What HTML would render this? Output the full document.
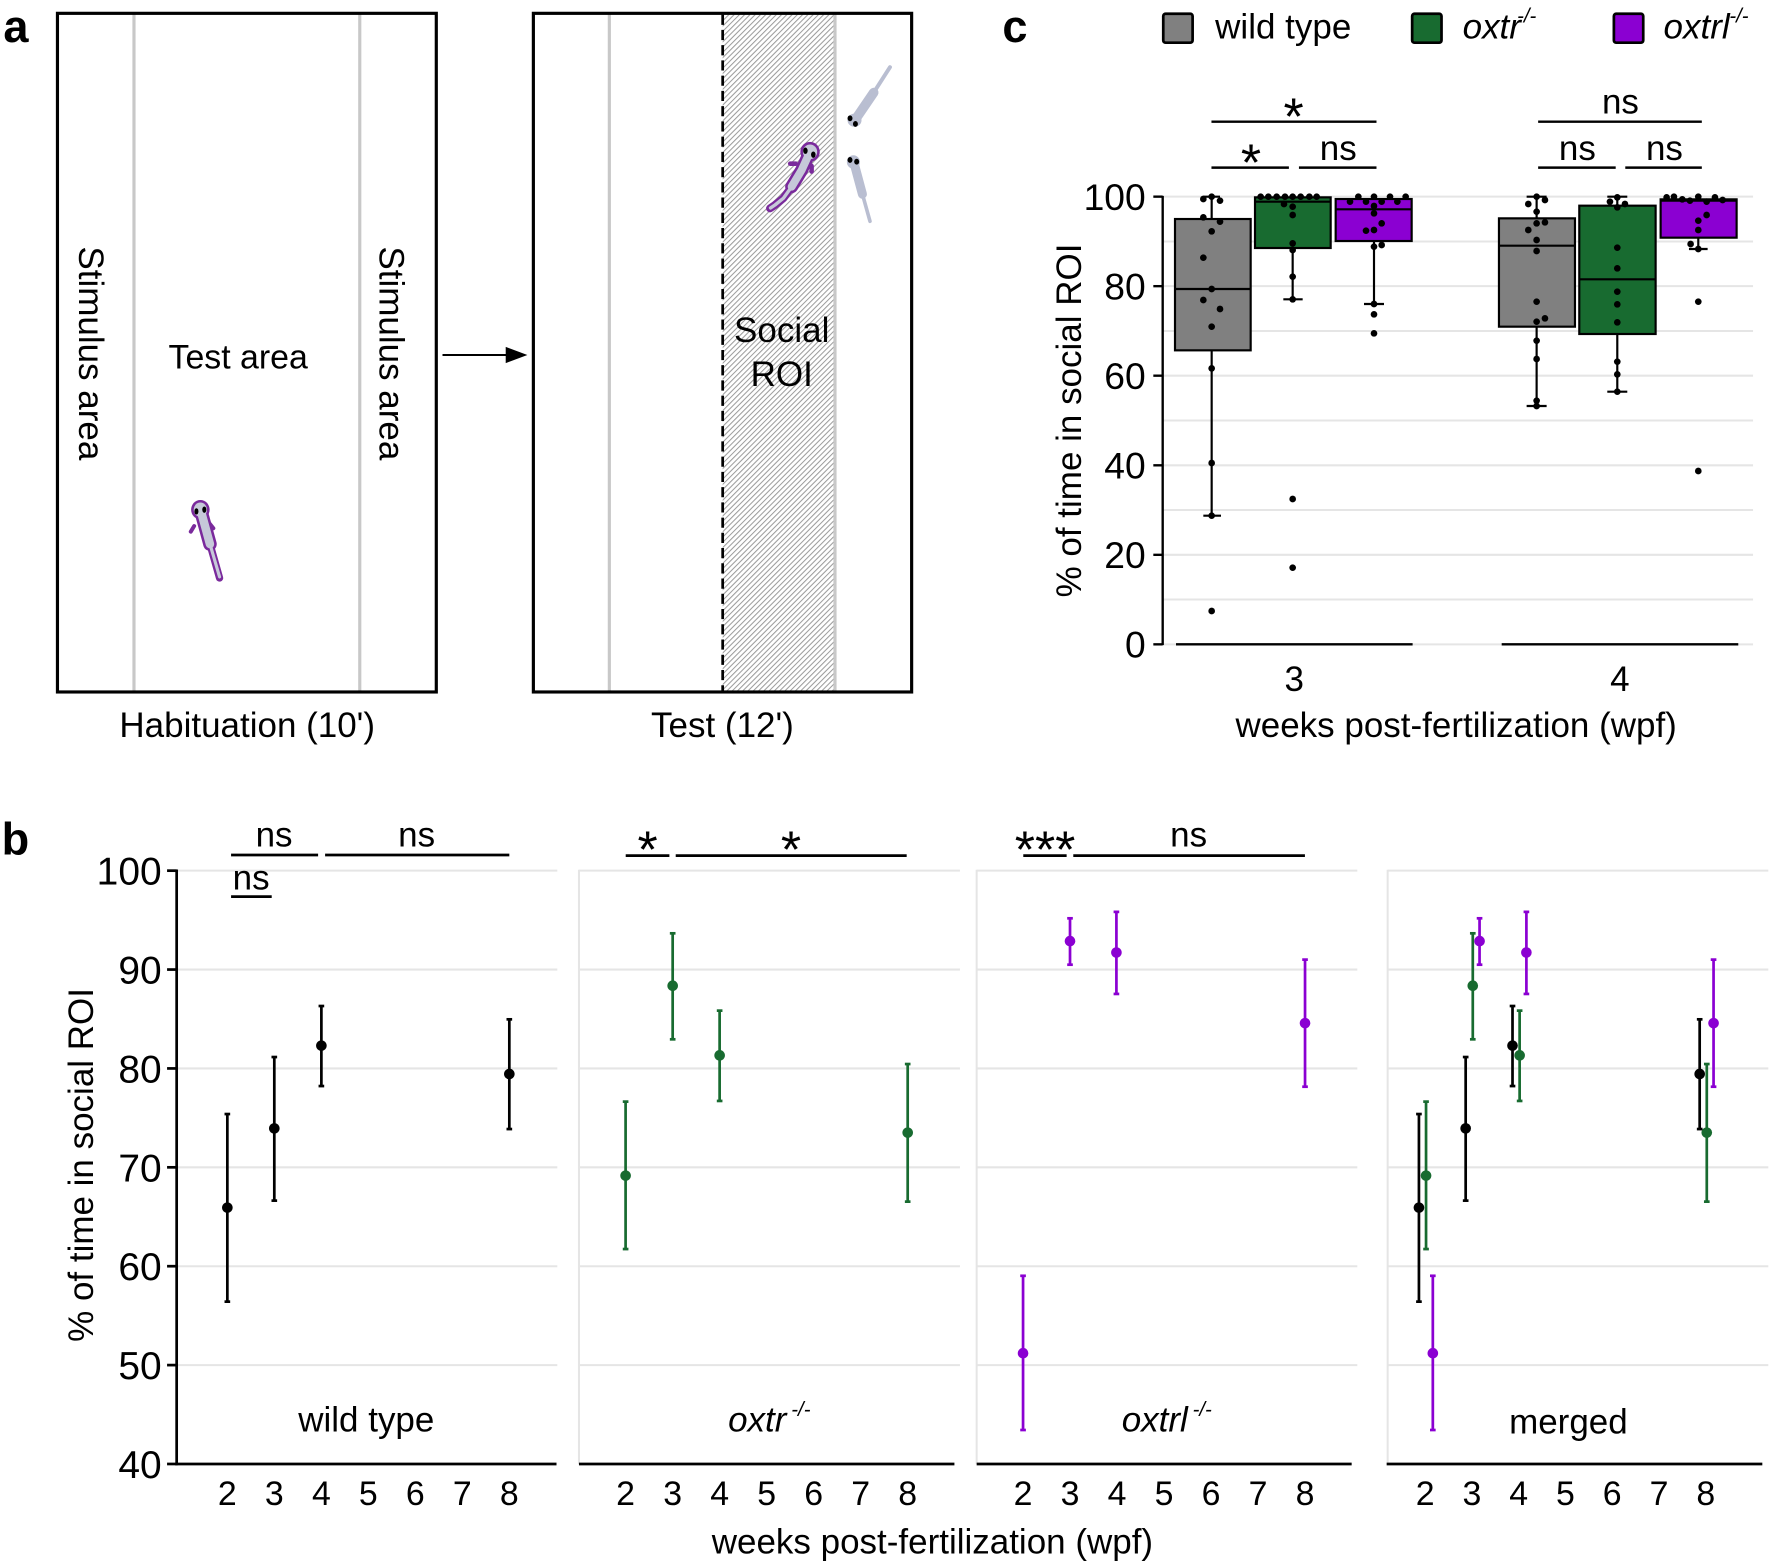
<!DOCTYPE html>
<html><head><meta charset="utf-8">
<style>html,body{margin:0;padding:0;background:#fff}svg{display:block}</style>
</head><body>
<svg width="1770" height="1564" viewBox="0 0 1568 1385.5" xmlns="http://www.w3.org/2000/svg" font-family="'Liberation Sans', Arial, sans-serif">
<defs>
<pattern id="hatch" width="10" height="3.3" patternUnits="userSpaceOnUse" patternTransform="rotate(-45)">
<rect x="0" y="0" width="10" height="0.9" fill="#9a9a9a"/>
</pattern>
</defs>
<rect width="1568" height="1385.5" fill="#fff"/>

<!-- ================= PANEL A ================= -->
<text x="3" y="37" font-size="40" font-weight="bold">a</text>
<line x1="118.7" y1="12" x2="118.7" y2="613" stroke="#c8c8c8" stroke-width="2.8"/>
<line x1="318.7" y1="12" x2="318.7" y2="613" stroke="#c8c8c8" stroke-width="2.8"/>
<rect x="50.9" y="11.8" width="335.6" height="601.2" fill="none" stroke="#000" stroke-width="2.8"/>
<text transform="translate(70,313) rotate(90)" x="0" y="0" font-size="31" text-anchor="middle">Stimulus area</text>
<text transform="translate(336,313) rotate(90)" x="0" y="0" font-size="31" text-anchor="middle">Stimulus area</text>
<text x="211" y="326.3" font-size="30" text-anchor="middle">Test area</text>
<g>
<line x1="178.6" y1="455" x2="186" y2="482" stroke="#7a2a9c" stroke-width="12" stroke-linecap="round"/>
<line x1="186" y1="482" x2="194.5" y2="512" stroke="#7a2a9c" stroke-width="6.5" stroke-linecap="round"/>
<line x1="172" y1="466" x2="169" y2="471" stroke="#7a2a9c" stroke-width="3.5" stroke-linecap="round"/>
<line x1="185" y1="463" x2="189" y2="468" stroke="#7a2a9c" stroke-width="3.5" stroke-linecap="round"/>
<ellipse cx="177.5" cy="451.5" rx="8.2" ry="8.6" fill="#7a2a9c"/>
<line x1="178.6" y1="455" x2="186" y2="482" stroke="#c6c9d9" stroke-width="7.5" stroke-linecap="round"/>
<line x1="186" y1="482" x2="194.5" y2="511" stroke="#c6c9d9" stroke-width="2.8" stroke-linecap="round"/>
<ellipse cx="177.5" cy="451.5" rx="5.9" ry="6.3" fill="#c6c9d9"/>
<ellipse cx="174" cy="453" rx="1.8" ry="2.8" fill="#000"/>
<ellipse cx="181" cy="451.5" rx="1.8" ry="2.8" fill="#000"/>
</g>
<text x="219" y="653" font-size="31" text-anchor="middle">Habituation (10')</text>
<line x1="392" y1="314.5" x2="452" y2="314.5" stroke="#000" stroke-width="1.8"/>
<polygon points="467.2,314.5 448,307.3 448,321.7" fill="#000"/>
<rect x="640.2" y="13" width="99.5" height="599" fill="url(#hatch)"/>
<line x1="539.8" y1="12" x2="539.8" y2="613" stroke="#c8c8c8" stroke-width="2.8"/>
<line x1="739.7" y1="12" x2="739.7" y2="613" stroke="#c8c8c8" stroke-width="2.8"/>
<line x1="640.2" y1="13" x2="640.2" y2="613" stroke="#000" stroke-width="2.4" stroke-dasharray="9 4.5"/>
<rect x="472.5" y="11.8" width="335.1" height="601.2" fill="none" stroke="#000" stroke-width="2.8"/>
<text x="692.5" y="303" font-size="31" text-anchor="middle">Social</text>
<text x="692.5" y="342" font-size="31" text-anchor="middle">ROI</text>
<g>
<polyline points="717.6,134.4 710.2,150.6 701.3,165.4" fill="none" stroke="#7a2a9c" stroke-width="11.5" stroke-linecap="round" stroke-linejoin="round"/>
<polyline points="701.3,165.4 693.9,175.7 686.5,181.6 682.1,184.6" fill="none" stroke="#7a2a9c" stroke-width="7" stroke-linecap="round" stroke-linejoin="round"/>
<line x1="705" y1="145" x2="700" y2="145" stroke="#7a2a9c" stroke-width="4" stroke-linecap="round"/>
<line x1="719" y1="147" x2="719" y2="152" stroke="#7a2a9c" stroke-width="4" stroke-linecap="round"/>
<ellipse cx="717.6" cy="134.5" rx="8.6" ry="8.8" fill="#7a2a9c"/>
<polyline points="717.6,134.4 710.2,150.6 701.3,165.4" fill="none" stroke="#c6c9d9" stroke-width="7" stroke-linecap="round" stroke-linejoin="round"/>
<polyline points="701.3,165.4 693.9,175.7 686.5,181.6 682.6,184.2" fill="none" stroke="#c6c9d9" stroke-width="3" stroke-linecap="round" stroke-linejoin="round"/>
<ellipse cx="717.6" cy="134.5" rx="6.3" ry="6.5" fill="#c6c9d9"/>
<ellipse cx="713.5" cy="133.5" rx="2" ry="2.8" fill="#000"/>
<ellipse cx="720.5" cy="137" rx="2" ry="2.8" fill="#000"/>
</g>
<g>
<line x1="759" y1="104" x2="774" y2="82" stroke="#b9bed1" stroke-width="8.5" stroke-linecap="round"/>
<line x1="774" y1="82" x2="788.4" y2="59.5" stroke="#b9bed1" stroke-width="3.5" stroke-linecap="round"/>
<ellipse cx="757" cy="106.5" rx="6.2" ry="5.8" fill="#b9bed1"/>
<ellipse cx="753" cy="104.8" rx="2.2" ry="2.6" fill="#000"/>
<ellipse cx="757.8" cy="109.8" rx="2.2" ry="2.6" fill="#000"/>
<line x1="757" y1="146" x2="764" y2="172" stroke="#b9bed1" stroke-width="8" stroke-linecap="round"/>
<line x1="764" y1="172" x2="770.7" y2="196" stroke="#b9bed1" stroke-width="3.2" stroke-linecap="round"/>
<ellipse cx="756" cy="143.5" rx="5.8" ry="6" fill="#b9bed1"/>
<ellipse cx="753" cy="141.7" rx="2.2" ry="2.6" fill="#000"/>
<ellipse cx="758.9" cy="143.2" rx="2.2" ry="2.6" fill="#000"/>
</g>
<text x="640" y="653" font-size="31" text-anchor="middle">Test (12')</text>

<!-- ================= PANEL C ================= -->
<text x="888" y="37" font-size="40" font-weight="bold">c</text>
<rect x="1030.5" y="12.2" width="26" height="25.6" rx="2" fill="#808080" stroke="#000" stroke-width="2.4"/>
<text x="1076.5" y="34" font-size="31">wild type</text>
<rect x="1251" y="12.2" width="26" height="25.6" rx="2" fill="#186b30" stroke="#000" stroke-width="2.4"/>
<text x="1295.7" y="34" font-size="31" font-style="italic">oxtr</text>
<text x="1344" y="20" font-size="18" font-style="italic">-/-</text>
<rect x="1429.7" y="12.2" width="26" height="25.6" rx="2" fill="#8b00d2" stroke="#000" stroke-width="2.4"/>
<text x="1473.7" y="34" font-size="31" font-style="italic">oxtrl</text>
<text x="1532" y="20" font-size="18" font-style="italic">-/-</text>
<g stroke="#000" stroke-width="2.2">
<line x1="1073.2" y1="107.8" x2="1219.4" y2="107.8"/>
<line x1="1073.2" y1="148.5" x2="1141.8" y2="148.5"/>
<line x1="1150.7" y1="148.5" x2="1219.4" y2="148.5"/>
<line x1="1362.6" y1="107.8" x2="1507.6" y2="107.8"/>
<line x1="1362.6" y1="148.5" x2="1431.3" y2="148.5"/>
<line x1="1439.8" y1="148.5" x2="1507.6" y2="148.5"/>
</g>
<text x="1146" y="119" font-size="46" text-anchor="middle">*</text>
<text x="1108.2" y="160" font-size="46" text-anchor="middle">*</text>
<text x="1185.5" y="141.7" font-size="31" text-anchor="middle">ns</text>
<text x="1435.5" y="100.4" font-size="31" text-anchor="middle">ns</text>
<text x="1397.4" y="141.7" font-size="31" text-anchor="middle">ns</text>
<text x="1474.5" y="141.7" font-size="31" text-anchor="middle">ns</text>
<g stroke="#e5e5e5" stroke-width="1.8">
<line x1="1030" y1="174.2" x2="1553" y2="174.2"/>
<line x1="1030" y1="213.9" x2="1553" y2="213.9"/>
<line x1="1030" y1="253.5" x2="1553" y2="253.5"/>
<line x1="1030" y1="293.2" x2="1553" y2="293.2"/>
<line x1="1030" y1="332.8" x2="1553" y2="332.8"/>
<line x1="1030" y1="372.5" x2="1553" y2="372.5"/>
<line x1="1030" y1="412.2" x2="1553" y2="412.2"/>
<line x1="1030" y1="451.8" x2="1553" y2="451.8"/>
<line x1="1030" y1="491.5" x2="1553" y2="491.5"/>
<line x1="1030" y1="531.1" x2="1553" y2="531.1"/>
<line x1="1030" y1="570.8" x2="1553" y2="570.8"/>
</g>
<g stroke="#000" stroke-width="2.1">
<line x1="1030" y1="173.5" x2="1030" y2="571.5"/>
<line x1="1021.7" y1="174.2" x2="1030" y2="174.2"/>
<line x1="1021.7" y1="253.5" x2="1030" y2="253.5"/>
<line x1="1021.7" y1="332.8" x2="1030" y2="332.8"/>
<line x1="1021.7" y1="412.2" x2="1030" y2="412.2"/>
<line x1="1021.7" y1="491.5" x2="1030" y2="491.5"/>
<line x1="1021.7" y1="570.8" x2="1030" y2="570.8"/>
<line x1="1041.8" y1="570.8" x2="1251.4" y2="570.8"/>
<line x1="1330.3" y1="570.8" x2="1539.9" y2="570.8"/>
</g>
<g font-size="33" text-anchor="end">
<text x="1015" y="186">100</text>
<text x="1015" y="265.3">80</text>
<text x="1015" y="344.6">60</text>
<text x="1015" y="424">40</text>
<text x="1015" y="503.3">20</text>
<text x="1015" y="582.6">0</text>
</g>
<text x="1146.6" y="612" font-size="31" text-anchor="middle">3</text>
<text x="1435" y="612" font-size="31" text-anchor="middle">4</text>
<text x="1290" y="653" font-size="31" text-anchor="middle">weeks post-fertilization (wpf)</text>
<text transform="translate(957.5,372.5) rotate(-90)" x="0" y="0" font-size="31" text-anchor="middle">% of time in social ROI</text>

<g transform="translate(1009.9,159.46) scale(0.29529)" stroke="#000" stroke-width="6.5">
<line x1="215" y1="50" x2="215" y2="1007"/>
<line x1="190" y1="1007" x2="243" y2="1007"/>
<line x1="190" y1="50" x2="240" y2="50"/>
<rect x="105" y="117" width="227" height="394" fill="#808080"/>
<line x1="105" y1="327" x2="332" y2="327"/>
<line x1="458" y1="50" x2="458" y2="358"/>
<line x1="430" y1="358" x2="488" y2="358"/>
<rect x="345" y="52" width="227" height="152" fill="#186b30"/>
<line x1="345" y1="65" x2="572" y2="65"/>
<line x1="702" y1="57" x2="702" y2="372"/>
<line x1="672" y1="372" x2="732" y2="372"/>
<rect x="587" y="57" width="228" height="126" fill="#8b00d2"/>
<line x1="587" y1="88" x2="815" y2="88"/>
<g fill="#000" stroke="none">
<circle cx="190" cy="57" r="10"/><circle cx="215" cy="50" r="10"/><circle cx="240" cy="62" r="10"/><circle cx="190" cy="112" r="10"/><circle cx="240" cy="125" r="10"/><circle cx="215" cy="154" r="10"/><circle cx="190" cy="233" r="10"/><circle cx="215" cy="327" r="10"/><circle cx="190" cy="360" r="10"/><circle cx="240" cy="387" r="10"/><circle cx="215" cy="440" r="10"/><circle cx="215" cy="565" r="10"/><circle cx="215" cy="849" r="10"/><circle cx="215" cy="1007" r="10"/><circle cx="215" cy="1293" r="10"/>
<circle cx="362" cy="50" r="10"/><circle cx="385" cy="50" r="10"/><circle cx="410" cy="50" r="10"/><circle cx="435" cy="50" r="10"/><circle cx="458" cy="50" r="10"/><circle cx="482" cy="50" r="10"/><circle cx="508" cy="50" r="10"/><circle cx="530" cy="50" r="10"/><circle cx="432" cy="72" r="10"/><circle cx="458" cy="80" r="10"/><circle cx="458" cy="105" r="10"/><circle cx="458" cy="190" r="10"/><circle cx="458" cy="210" r="10"/><circle cx="458" cy="290" r="10"/><circle cx="458" cy="358" r="10"/><circle cx="458" cy="957" r="10"/><circle cx="458" cy="1163" r="10"/>
<circle cx="630" cy="65" r="10"/><circle cx="655" cy="50" r="10"/><circle cx="678" cy="65" r="10"/><circle cx="702" cy="50" r="10"/><circle cx="725" cy="65" r="10"/><circle cx="750" cy="50" r="10"/><circle cx="772" cy="65" r="10"/><circle cx="797" cy="50" r="10"/><circle cx="702" cy="78" r="10"/><circle cx="702" cy="100" r="10"/><circle cx="725" cy="130" r="10"/><circle cx="678" cy="152" r="10"/><circle cx="702" cy="150" r="10"/><circle cx="702" cy="200" r="10"/><circle cx="725" cy="195" r="10"/><circle cx="702" cy="372" r="10"/><circle cx="702" cy="403" r="10"/><circle cx="702" cy="460" r="10"/>
</g>
</g>
<g transform="translate(1302.2,159.46) scale(0.29529)" stroke="#000" stroke-width="6.5">
<line x1="200" y1="50" x2="200" y2="678"/>
<line x1="170" y1="50" x2="230" y2="50"/>
<line x1="170" y1="678" x2="230" y2="678"/>
<rect x="87" y="115" width="228" height="325" fill="#808080"/>
<line x1="87" y1="197" x2="315" y2="197"/>
<line x1="442" y1="50" x2="442" y2="635"/>
<line x1="412" y1="50" x2="472" y2="50"/>
<line x1="412" y1="635" x2="472" y2="635"/>
<rect x="328" y="77" width="229" height="385" fill="#186b30"/>
<line x1="328" y1="298" x2="557" y2="298"/>
<line x1="685" y1="58" x2="685" y2="207"/>
<line x1="657" y1="207" x2="713" y2="207"/>
<rect x="572" y="58" width="228" height="115" fill="#8b00d2"/>
<line x1="572" y1="62" x2="800" y2="62"/>
<g fill="#000" stroke="none">
<circle cx="175" cy="72" r="10"/><circle cx="200" cy="50" r="10"/><circle cx="225" cy="60" r="10"/><circle cx="200" cy="95" r="10"/><circle cx="200" cy="130" r="10"/><circle cx="225" cy="127" r="10"/><circle cx="175" cy="150" r="10"/><circle cx="200" cy="180" r="10"/><circle cx="200" cy="213" r="10"/><circle cx="200" cy="365" r="10"/><circle cx="200" cy="425" r="10"/><circle cx="225" cy="415" r="10"/><circle cx="200" cy="482" r="10"/><circle cx="200" cy="537" r="10"/><circle cx="200" cy="662" r="10"/><circle cx="200" cy="678" r="10"/>
<circle cx="420" cy="65" r="10"/><circle cx="442" cy="52" r="10"/><circle cx="465" cy="72" r="10"/><circle cx="442" cy="82" r="10"/><circle cx="442" cy="203" r="10"/><circle cx="442" cy="265" r="10"/><circle cx="442" cy="335" r="10"/><circle cx="442" cy="373" r="10"/><circle cx="442" cy="427" r="10"/><circle cx="442" cy="545" r="10"/><circle cx="442" cy="583" r="10"/><circle cx="442" cy="635" r="10"/>
<circle cx="590" cy="52" r="10"/><circle cx="612" cy="50" r="10"/><circle cx="637" cy="58" r="10"/><circle cx="660" cy="62" r="10"/><circle cx="685" cy="50" r="10"/><circle cx="710" cy="65" r="10"/><circle cx="735" cy="52" r="10"/><circle cx="758" cy="60" r="10"/><circle cx="710" cy="105" r="10"/><circle cx="685" cy="122" r="10"/><circle cx="685" cy="150" r="10"/><circle cx="662" cy="192" r="10"/><circle cx="685" cy="207" r="10"/><circle cx="685" cy="365" r="10"/><circle cx="685" cy="873" r="10"/>
</g>
</g>

<!-- ================= PANEL B ================= -->
<text x="1.5" y="757" font-size="40" font-weight="bold">b</text>
<g stroke="#e5e5e5" stroke-width="1.8">
<line x1="156.5" y1="771.3" x2="493.7" y2="771.3"/><line x1="156.5" y1="858.9" x2="493.7" y2="858.9"/><line x1="156.5" y1="946.5" x2="493.7" y2="946.5"/><line x1="156.5" y1="1034.1" x2="493.7" y2="1034.1"/><line x1="156.5" y1="1121.7" x2="493.7" y2="1121.7"/><line x1="156.5" y1="1209.3" x2="493.7" y2="1209.3"/>
<line x1="512.9" y1="771.3" x2="850.4" y2="771.3"/><line x1="512.9" y1="858.9" x2="850.4" y2="858.9"/><line x1="512.9" y1="946.5" x2="850.4" y2="946.5"/><line x1="512.9" y1="1034.1" x2="850.4" y2="1034.1"/><line x1="512.9" y1="1121.7" x2="850.4" y2="1121.7"/><line x1="512.9" y1="1209.3" x2="850.4" y2="1209.3"/>
<line x1="865.2" y1="771.3" x2="1202.4" y2="771.3"/><line x1="865.2" y1="858.9" x2="1202.4" y2="858.9"/><line x1="865.2" y1="946.5" x2="1202.4" y2="946.5"/><line x1="865.2" y1="1034.1" x2="1202.4" y2="1034.1"/><line x1="865.2" y1="1121.7" x2="1202.4" y2="1121.7"/><line x1="865.2" y1="1209.3" x2="1202.4" y2="1209.3"/>
<line x1="1229.3" y1="771.3" x2="1566.5" y2="771.3"/><line x1="1229.3" y1="858.9" x2="1566.5" y2="858.9"/><line x1="1229.3" y1="946.5" x2="1566.5" y2="946.5"/><line x1="1229.3" y1="1034.1" x2="1566.5" y2="1034.1"/><line x1="1229.3" y1="1121.7" x2="1566.5" y2="1121.7"/><line x1="1229.3" y1="1209.3" x2="1566.5" y2="1209.3"/>
<line x1="512.9" y1="770.5" x2="512.9" y2="1297"/>
<line x1="865.2" y1="770.5" x2="865.2" y2="1297"/>
<line x1="1229.3" y1="770.5" x2="1229.3" y2="1297"/>
</g>
<g stroke="#000" stroke-width="2.4">
<line x1="156.5" y1="770.3" x2="156.5" y2="1298"/>
<line x1="148" y1="771.3" x2="156.5" y2="771.3"/><line x1="148" y1="858.9" x2="156.5" y2="858.9"/><line x1="148" y1="946.5" x2="156.5" y2="946.5"/><line x1="148" y1="1034.1" x2="156.5" y2="1034.1"/><line x1="148" y1="1121.7" x2="156.5" y2="1121.7"/><line x1="148" y1="1209.3" x2="156.5" y2="1209.3"/><line x1="148" y1="1296.9" x2="156.5" y2="1296.9"/>
<line x1="155.3" y1="1296.9" x2="493" y2="1296.9"/>
<line x1="512.9" y1="1296.9" x2="845.5" y2="1296.9"/>
<line x1="865.2" y1="1296.9" x2="1197.4" y2="1296.9"/>
<line x1="1228.4" y1="1296.9" x2="1561.2" y2="1296.9"/>
</g>
<g font-size="34.5" text-anchor="end">
<text x="143.2" y="783.7">100</text>
<text x="143.2" y="871.3">90</text>
<text x="143.2" y="958.9">80</text>
<text x="143.2" y="1046.5">70</text>
<text x="143.2" y="1134.1">60</text>
<text x="143.2" y="1221.7">50</text>
<text x="143.2" y="1309.3">40</text>
</g>
<text transform="translate(82.5,1032) rotate(-90)" x="0" y="0" font-size="31" text-anchor="middle">% of time in social ROI</text>
<g font-size="30" text-anchor="middle">
<text x="201.4" y="1333.2">2</text><text x="243.0" y="1333.2">3</text><text x="284.7" y="1333.2">4</text><text x="326.3" y="1333.2">5</text><text x="367.9" y="1333.2">6</text><text x="409.6" y="1333.2">7</text><text x="451.2" y="1333.2">8</text>
<text x="554.2" y="1333.2">2</text><text x="595.9" y="1333.2">3</text><text x="637.5" y="1333.2">4</text><text x="679.2" y="1333.2">5</text><text x="720.8" y="1333.2">6</text><text x="762.5" y="1333.2">7</text><text x="804.1" y="1333.2">8</text>
<text x="906.3" y="1333.2">2</text><text x="947.9" y="1333.2">3</text><text x="989.6" y="1333.2">4</text><text x="1031.2" y="1333.2">5</text><text x="1072.8" y="1333.2">6</text><text x="1114.5" y="1333.2">7</text><text x="1156.1" y="1333.2">8</text>
<text x="1262.5" y="1333.2">2</text><text x="1303.9" y="1333.2">3</text><text x="1345.4" y="1333.2">4</text><text x="1386.8" y="1333.2">5</text><text x="1428.2" y="1333.2">6</text><text x="1469.7" y="1333.2">7</text><text x="1511.1" y="1333.2">8</text>
</g>
<text x="826" y="1376" font-size="31" text-anchor="middle">weeks post-fertilization (wpf)</text>
<text x="324.5" y="1268.3" font-size="31" text-anchor="middle">wild type</text>
<text x="645" y="1268.3" font-size="31" font-style="italic">oxtr</text>
<text x="701" y="1254.5" font-size="18" font-style="italic">-/-</text>
<text x="993.7" y="1268.3" font-size="31" font-style="italic">oxtrl</text>
<text x="1056.5" y="1254.5" font-size="18" font-style="italic">-/-</text>
<text x="1389.4" y="1269.7" font-size="31" text-anchor="middle">merged</text>
<g stroke="#000" stroke-width="2.4">
<line x1="204.7" y1="757.4" x2="281.8" y2="757.4"/>
<line x1="288" y1="757.4" x2="451.2" y2="757.4"/>
<line x1="204.7" y1="794.3" x2="240.7" y2="794.3"/>
<line x1="554.3" y1="758" x2="593" y2="758"/>
<line x1="598.6" y1="758" x2="803.2" y2="758"/>
<line x1="906.5" y1="758" x2="944.9" y2="758"/>
<line x1="950.8" y1="758" x2="1156" y2="758"/>
</g>
<text x="242.8" y="750" font-size="31" text-anchor="middle">ns</text>
<text x="369.1" y="750" font-size="31" text-anchor="middle">ns</text>
<text x="222.5" y="787.8" font-size="31" text-anchor="middle">ns</text>
<text x="573.7" y="768.5" font-size="46" text-anchor="middle">*</text>
<text x="700.7" y="768.5" font-size="46" text-anchor="middle">*</text>
<text x="925.8" y="768.5" font-size="46" text-anchor="middle">***</text>
<text x="1053" y="750" font-size="31" text-anchor="middle">ns</text>

<g stroke="#000" stroke-width="2.4" fill="#000">
<line x1="201.4" y1="986.9" x2="201.4" y2="1153.1"/><line x1="198.9" y1="986.9" x2="203.9" y2="986.9"/><line x1="198.9" y1="1153.1" x2="203.9" y2="1153.1"/><circle cx="201.4" cy="1069.8" r="4.7" stroke="none"/>
<line x1="243.0" y1="936.4" x2="243.0" y2="1063.6"/><line x1="240.5" y1="936.4" x2="245.5" y2="936.4"/><line x1="240.5" y1="1063.6" x2="245.5" y2="1063.6"/><circle cx="243.0" cy="999.6" r="4.7" stroke="none"/>
<line x1="284.7" y1="891.2" x2="284.7" y2="962.1"/><line x1="282.2" y1="891.2" x2="287.2" y2="891.2"/><line x1="282.2" y1="962.1" x2="287.2" y2="962.1"/><circle cx="284.7" cy="926.3" r="4.7" stroke="none"/>
<line x1="451.2" y1="903.0" x2="451.2" y2="1000.2"/><line x1="448.7" y1="903.0" x2="453.7" y2="903.0"/><line x1="448.7" y1="1000.2" x2="453.7" y2="1000.2"/><circle cx="451.2" cy="951.4" r="4.7" stroke="none"/>
</g>
<g stroke="#186b30" stroke-width="2.4" fill="#186b30">
<line x1="554.2" y1="975.9" x2="554.2" y2="1106.5"/><line x1="551.7" y1="975.9" x2="556.7" y2="975.9"/><line x1="551.7" y1="1106.5" x2="556.7" y2="1106.5"/><circle cx="554.2" cy="1041.5" r="4.7" stroke="none"/>
<line x1="595.9" y1="826.8" x2="595.9" y2="920.7"/><line x1="593.4" y1="826.8" x2="598.4" y2="826.8"/><line x1="593.4" y1="920.7" x2="598.4" y2="920.7"/><circle cx="595.9" cy="873.2" r="4.7" stroke="none"/>
<line x1="637.5" y1="895.3" x2="637.5" y2="975.3"/><line x1="635" y1="895.3" x2="640" y2="895.3"/><line x1="635" y1="975.3" x2="640" y2="975.3"/><circle cx="637.5" cy="934.9" r="4.7" stroke="none"/>
<line x1="804.1" y1="942.6" x2="804.1" y2="1064.5"/><line x1="801.6" y1="942.6" x2="806.6" y2="942.6"/><line x1="801.6" y1="1064.5" x2="806.6" y2="1064.5"/><circle cx="804.1" cy="1003.4" r="4.7" stroke="none"/>
</g>
<g stroke="#8b00d2" stroke-width="2.4" fill="#8b00d2">
<line x1="906.3" y1="1130.2" x2="906.3" y2="1266.8"/><line x1="903.8" y1="1130.2" x2="908.8" y2="1130.2"/><line x1="903.8" y1="1266.8" x2="908.8" y2="1266.8"/><circle cx="906.3" cy="1198.8" r="4.7" stroke="none"/>
<line x1="947.9" y1="813.5" x2="947.9" y2="854.6"/><line x1="945.4" y1="813.5" x2="950.4" y2="813.5"/><line x1="945.4" y1="854.6" x2="950.4" y2="854.6"/><circle cx="947.9" cy="833.7" r="4.7" stroke="none"/>
<line x1="989.0" y1="807.8" x2="989.0" y2="880.5"/><line x1="986.5" y1="807.8" x2="991.5" y2="807.8"/><line x1="986.5" y1="880.5" x2="991.5" y2="880.5"/><circle cx="989.0" cy="843.8" r="4.7" stroke="none"/>
<line x1="1156.1" y1="850.1" x2="1156.1" y2="962.7"/><line x1="1153.6" y1="850.1" x2="1158.6" y2="850.1"/><line x1="1153.6" y1="962.7" x2="1158.6" y2="962.7"/><circle cx="1156.1" cy="906.4" r="4.7" stroke="none"/>
</g>
<g stroke="#000" stroke-width="2.4" fill="#000">
<line x1="1257.0" y1="986.9" x2="1257.0" y2="1153.1"/><line x1="1254.5" y1="986.9" x2="1259.5" y2="986.9"/><line x1="1254.5" y1="1153.1" x2="1259.5" y2="1153.1"/><circle cx="1257.0" cy="1069.8" r="4.7" stroke="none"/>
<line x1="1298.4" y1="936.4" x2="1298.4" y2="1063.6"/><line x1="1295.9" y1="936.4" x2="1300.9" y2="936.4"/><line x1="1295.9" y1="1063.6" x2="1300.9" y2="1063.6"/><circle cx="1298.4" cy="999.6" r="4.7" stroke="none"/>
<line x1="1339.9" y1="891.2" x2="1339.9" y2="962.1"/><line x1="1337.4" y1="891.2" x2="1342.4" y2="891.2"/><line x1="1337.4" y1="962.1" x2="1342.4" y2="962.1"/><circle cx="1339.9" cy="926.3" r="4.7" stroke="none"/>
<line x1="1505.7" y1="903.0" x2="1505.7" y2="1000.2"/><line x1="1503.2" y1="903.0" x2="1508.2" y2="903.0"/><line x1="1503.2" y1="1000.2" x2="1508.2" y2="1000.2"/><circle cx="1505.7" cy="951.4" r="4.7" stroke="none"/>
</g>
<g stroke="#186b30" stroke-width="2.4" fill="#186b30">
<line x1="1263.3" y1="975.9" x2="1263.3" y2="1106.5"/><line x1="1260.8" y1="975.9" x2="1265.8" y2="975.9"/><line x1="1260.8" y1="1106.5" x2="1265.8" y2="1106.5"/><circle cx="1263.3" cy="1041.5" r="4.7" stroke="none"/>
<line x1="1304.7" y1="826.8" x2="1304.7" y2="920.7"/><line x1="1302.2" y1="826.8" x2="1307.2" y2="826.8"/><line x1="1302.2" y1="920.7" x2="1307.2" y2="920.7"/><circle cx="1304.7" cy="873.2" r="4.7" stroke="none"/>
<line x1="1346.2" y1="895.3" x2="1346.2" y2="975.3"/><line x1="1343.7" y1="895.3" x2="1348.7" y2="895.3"/><line x1="1343.7" y1="975.3" x2="1348.7" y2="975.3"/><circle cx="1346.2" cy="934.9" r="4.7" stroke="none"/>
<line x1="1512.0" y1="942.6" x2="1512.0" y2="1064.5"/><line x1="1509.5" y1="942.6" x2="1514.5" y2="942.6"/><line x1="1509.5" y1="1064.5" x2="1514.5" y2="1064.5"/><circle cx="1512.0" cy="1003.4" r="4.7" stroke="none"/>
</g>
<g stroke="#8b00d2" stroke-width="2.4" fill="#8b00d2">
<line x1="1269.3" y1="1130.2" x2="1269.3" y2="1266.8"/><line x1="1266.8" y1="1130.2" x2="1271.8" y2="1130.2"/><line x1="1266.8" y1="1266.8" x2="1271.8" y2="1266.8"/><circle cx="1269.3" cy="1198.8" r="4.7" stroke="none"/>
<line x1="1310.7" y1="813.5" x2="1310.7" y2="854.6"/><line x1="1308.2" y1="813.5" x2="1313.2" y2="813.5"/><line x1="1308.2" y1="854.6" x2="1313.2" y2="854.6"/><circle cx="1310.7" cy="833.7" r="4.7" stroke="none"/>
<line x1="1352.2" y1="807.8" x2="1352.2" y2="880.5"/><line x1="1349.7" y1="807.8" x2="1354.7" y2="807.8"/><line x1="1349.7" y1="880.5" x2="1354.7" y2="880.5"/><circle cx="1352.2" cy="843.8" r="4.7" stroke="none"/>
<line x1="1518.0" y1="850.1" x2="1518.0" y2="962.7"/><line x1="1515.5" y1="850.1" x2="1520.5" y2="850.1"/><line x1="1515.5" y1="962.7" x2="1520.5" y2="962.7"/><circle cx="1518.0" cy="906.4" r="4.7" stroke="none"/>
</g>
</svg>
</body></html>
